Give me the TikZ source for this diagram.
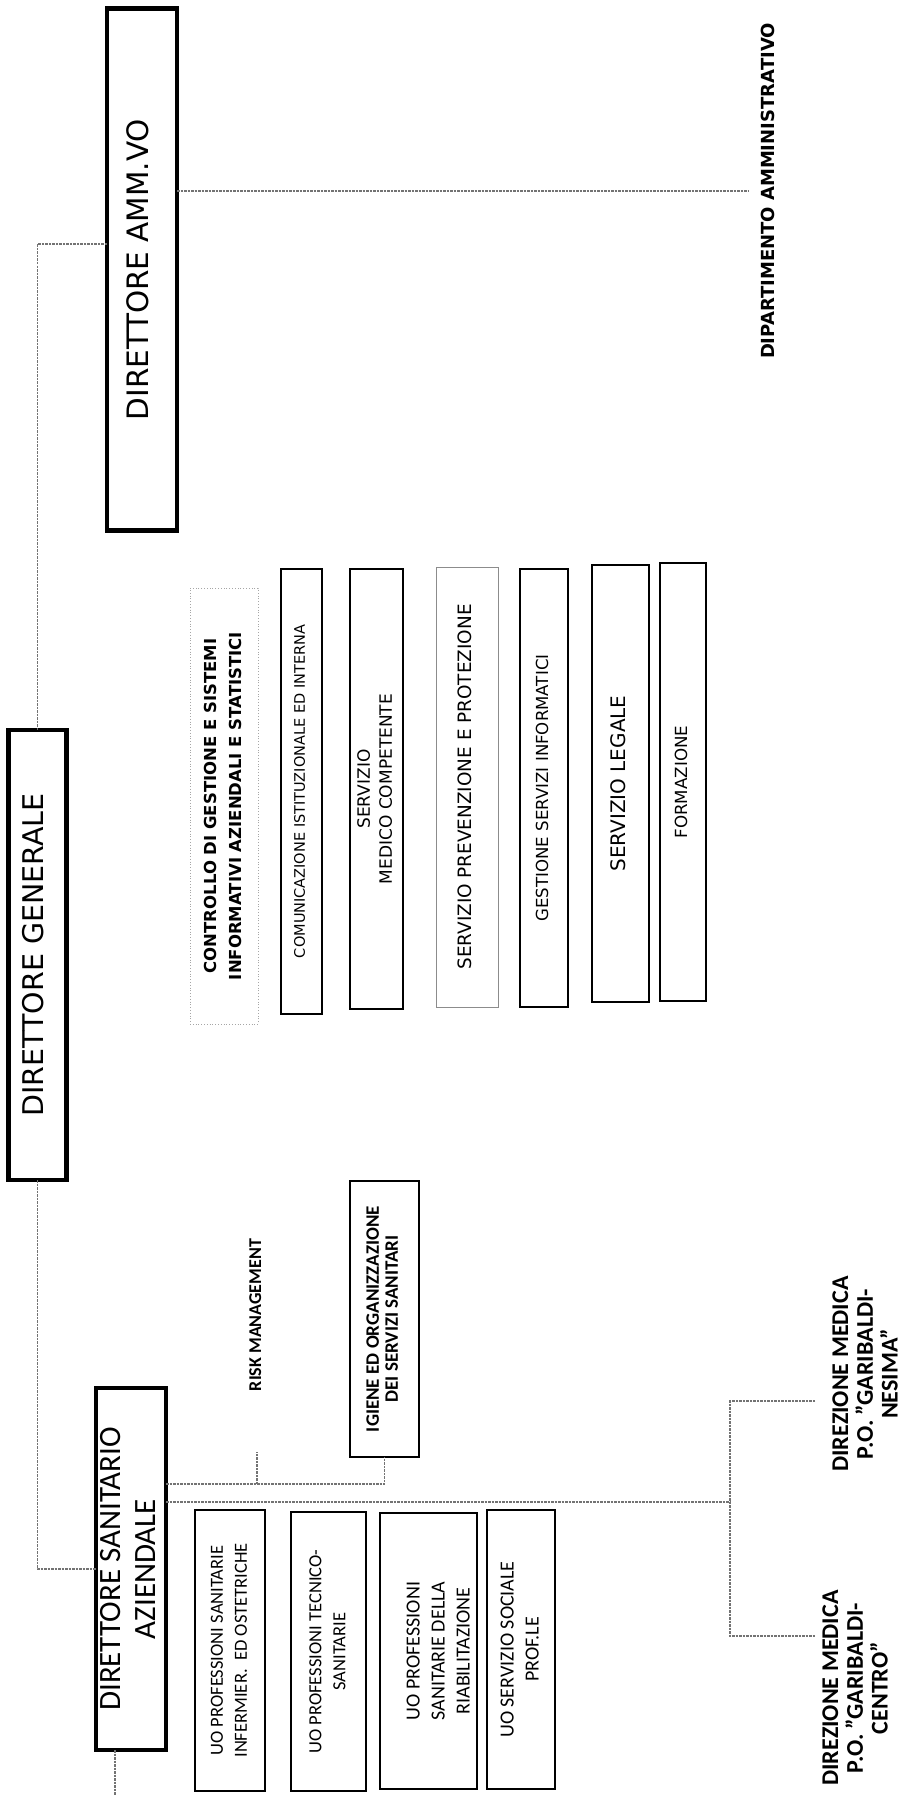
\documentclass[tikz,border=0pt]{standalone}
\usepackage{fontspec}
\setmainfont{Carlito}
\newfontfamily\dvs{DejaVu Sans}
\usepackage{graphicx}
\newcommand{\vt}[2]{\rotatebox{90}{#1\begin{tabular}{@{}c@{}}#2\end{tabular}}}
\tikzset{
  conn/.style={draw=black!55, line width=1.3pt, dash pattern=on 2.5pt off 1pt},
  bigbox/.style={draw, line width=4.5pt, inner sep=0pt, outer sep=0pt},
  svcbox/.style={draw, line width=1.8pt, inner sep=0pt, outer sep=0pt},
  lightbox/.style={draw=black!45, line width=1pt, inner sep=0pt, outer sep=0pt},
  ghostbox/.style={draw=black!35, line width=0.8pt, dotted, inner sep=0pt, outer sep=0pt},
  txt/.style={inner sep=0pt, outer sep=0pt}
}
\begin{document}
\begin{tikzpicture}[x=1pt,y=-1pt]
\useasboundingbox (0,0) rectangle (923,1795);
\fill[white] (0,0) rectangle (923,1795);

% top level boxes
\node[bigbox, minimum width=70pt, minimum height=522pt] (amm) at (142,269.5)
  {\vt{\dvs\fontsize{29.5}{32}\selectfont}{DIRETTORE AMM.VO}};
\node[bigbox, minimum width=58pt, minimum height=450pt] (dg) at (37.5,955)
  {\vt{\dvs\fontsize{28.5}{32}\selectfont}{DIRETTORE GENERALE}};
\node[bigbox, minimum width=70pt, minimum height=362pt] (dsa) at (131,1569)
  {\vt{\fontsize{31}{35}\selectfont}{DIRETTORE SANITARIO\\AZIENDALE}};

% administrative department
\node[txt, inner xsep=12pt] (dip) at (770,191)
  {\vt{\dvs\bfseries\fontsize{18}{20}\selectfont}{DIPARTIMENTO AMMINISTRATIVO}};

% staff of the general director
\node[ghostbox, minimum width=68pt, minimum height=436pt] (ctrl) at (224,806)
  {\vt{\dvs\bfseries\fontsize{16.5}{24.5}\selectfont}{CONTROLLO DI GESTIONE E SISTEMI\\INFORMATIVI AZIENDALI E STATISTICI}};
\node[svcbox, minimum width=41pt, minimum height=445pt] (s1) at (301.5,791.5)
  {\vt{\dvs\fontsize{14.5}{17}\selectfont}{COMUNICAZIONE ISTITUZIONALE ED INTERNA}};
\node[svcbox, minimum width=53pt, minimum height=440pt] (s2) at (376.5,789)
  {\vt{\dvs\fontsize{17}{22}\selectfont}{SERVIZIO\\MEDICO COMPETENTE}};
\node[lightbox, minimum width=62pt, minimum height=440pt] (s3) at (467,787)
  {\vt{\dvs\fontsize{18.4}{22}\selectfont}{SERVIZIO PREVENZIONE E PROTEZIONE}};
\node[svcbox, minimum width=48pt, minimum height=438pt] (s4) at (544,788)
  {\vt{\dvs\fontsize{16.6}{20}\selectfont}{GESTIONE SERVIZI INFORMATICI}};
\node[svcbox, minimum width=57pt, minimum height=437pt] (s5) at (620.5,783.5)
  {\vt{\dvs\fontsize{20}{24}\selectfont}{SERVIZIO LEGALE}};
\node[svcbox, minimum width=46pt, minimum height=438pt] (s6) at (683,782)
  {\vt{\dvs\fontsize{16.7}{20}\selectfont}{FORMAZIONE}};

% sanitary director staff
\node[txt, minimum height=274pt] (risk) at (257,1315)
  {\vt{\bfseries\fontsize{18}{21}\selectfont}{RISK MANAGEMENT}};
\node[svcbox, minimum width=69pt, minimum height=276pt] (igiene) at (384.5,1319)
  {\vt{\bfseries\fontsize{19}{19}\selectfont}{IGIENE ED ORGANIZZAZIONE\\DEI SERVIZI SANITARI}};

% UO boxes
\node[svcbox, minimum width=70pt, minimum height=281pt] (u1) at (230,1650.5)
  {\vt{\fontsize{18.5}{24}\selectfont}{UO PROFESSIONI SANITARIE\\INFERMIER.\ \ ED OSTETRICHE}};
\node[svcbox, minimum width=75pt, minimum height=279pt] (u2) at (328.5,1651.5)
  {\vt{\fontsize{18.5}{24}\selectfont}{UO PROFESSIONI TECNICO-\\SANITARIE}};
\node[svcbox, minimum width=81pt, minimum height=276pt] (u3) at (428.5,1651)
  {\vt{\fontsize{20}{25}\selectfont}{\\[-3pt]UO PROFESSIONI\\SANITARIE DELLA\\RIABILITAZIONE}};
\node[svcbox, minimum width=68pt, minimum height=279pt] (u4) at (521,1649.5)
  {\vt{\fontsize{20}{25}\selectfont}{UO SERVIZIO SOCIALE\\PROF.LE}};

% medical directions
\node[txt] (dmn) at (868,1374)
  {\vt{\bfseries\fontsize{24}{24.5}\selectfont}{DIREZIONE MEDICA\\P.O. "GARIBALDI-\\NESIMA"}};
\node[txt] (dmc) at (858,1688)
  {\vt{\bfseries\fontsize{24}{24.5}\selectfont}{DIREZIONE MEDICA\\P.O. "GARIBALDI-\\CENTRO"}};

% connectors
\coordinate (jtop) at (37.5,244);
\draw[conn] (amm.west |- jtop) -- (jtop) -- (dg.north);
\draw[conn] (dg.south) -- (dg.south |- dsa.west) -- (dsa.west);
\draw[conn] (amm.east |- dip.west) -- (dip.west);
\coordinate (dsaout) at (115,1795);
\draw[conn] (dsaout |- dsa.south) -- (dsaout);
\coordinate (jsan) at (0,1484);
\draw[conn] (dsa.east |- jsan) -- (igiene.south |- jsan) -- (igiene.south);
\draw[conn] (risk.south |- jsan) -- (risk.south);
\coordinate (jdm) at (730,1502);
\draw[conn] (dsa.east |- jdm) -- (jdm);
\coordinate (dmnin) at (815,1401);
\coordinate (dmcin) at (815,1636);
\draw[conn] (dmnin) -- (dmnin -| jdm) -- (dmcin -| jdm) -- (dmcin);
\end{tikzpicture}
\end{document}
